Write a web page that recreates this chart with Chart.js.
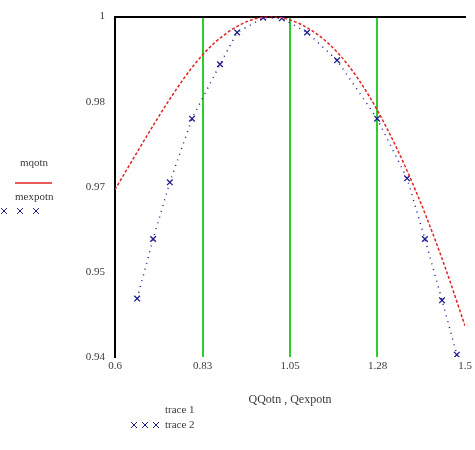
<!DOCTYPE html>
<html lang="en">
<head>
    <meta charset="UTF-8">
    <title>trace 1 / trace 2</title>
    <script src="https://cdn.jsdelivr.net/npm/chart.js@4.4.1/dist/chart.umd.min.js"></script>
    <style>
        body { margin: 0; background: #fff; }
        #wrap { width: 475px; height: 450px; }
    </style>
</head>
<body>
    <div id="wrap"><canvas id="c"></canvas></div>
    <script>
        // trace 1 (red, smooth curve)
        const trace1X = [0.6, 0.65, 0.7, 0.75, 0.8, 0.85, 0.9, 0.95, 1.0, 1.05, 1.1, 1.15, 1.2, 1.25, 1.3, 1.35, 1.4, 1.45, 1.5];
        const trace1Y = [0.9695, 0.9753, 0.981, 0.9864, 0.9912, 0.995, 0.9977, 0.9994, 1.0, 0.9994, 0.9978, 0.9952, 0.9914, 0.9864, 0.9802, 0.973, 0.9648, 0.9556, 0.9455];

        // trace 2 (blue, x markers)
        const trace2X = [0.657, 0.698, 0.741, 0.798, 0.870, 0.914, 0.981, 1.029, 1.094, 1.171, 1.274, 1.351, 1.397, 1.441, 1.479];
        const trace2Y = [0.9503, 0.9608, 0.9708, 0.982, 0.9916, 0.9972, 0.9998, 0.9997, 0.9972, 0.9923, 0.982, 0.9715, 0.9608, 0.95, 0.9404];

        // axis ticks
        const xTickValues = [0.6, 0.825, 1.05, 1.275, 1.5];
        const xTickLabels = ['0.6', '0.83', '1.05', '1.28', '1.5'];
        const xMarkers = [0.825, 1.05, 1.275];
        const yTickValues = [0.94, 0.955, 0.97, 0.985, 1];
        const yTickLabels = ['0.94', '0.95', '0.97', '0.98', '1'];

        const red = '#e02424';
        const blue = '#1c1c8c';
        const green = '#2ecc2e';
        const textColor = '#3a3a3a';
        const serif = "'Liberation Serif', 'DejaVu Serif', serif";

        // extra labels in the Mathcad style (y names on the left, trace legend below)
        const sideLabels = {
            id: 'sideLabels',
            afterDraw(chart) {
                const ctx = chart.ctx;
                ctx.save();
                ctx.font = '11px ' + serif;
                ctx.fillStyle = textColor;
                ctx.textBaseline = 'middle';
                ctx.textAlign = 'left';
                ctx.fillText('mqotn', 20, 163);
                ctx.fillText('mexpotn', 15, 197);
                ctx.fillText('trace 1', 165, 410);
                ctx.fillText('trace 2', 165, 425);

                // red line sample
                ctx.strokeStyle = red;
                ctx.lineWidth = 1.5;
                ctx.beginPath();
                ctx.moveTo(15, 183);
                ctx.lineTo(52, 183);
                ctx.stroke();

                // blue x sample (left and bottom)
                const cross = (x, y) => {
                    ctx.beginPath();
                    ctx.moveTo(x - 3, y - 3); ctx.lineTo(x + 3, y + 3);
                    ctx.moveTo(x + 3, y - 3); ctx.lineTo(x - 3, y + 3);
                    ctx.stroke();
                };
                ctx.strokeStyle = blue;
                ctx.lineWidth = 1;
                [4, 20, 36].forEach(x => cross(x, 211));
                [134, 145, 156].forEach(x => cross(x, 425));
                ctx.restore();
            }
        };

        new Chart(document.getElementById('c'), {
            type: 'scatter',
            data: {
                datasets: [{
                    label: 'trace 1',
                    data: trace1X.map((x, i) => ({ x: x, y: trace1Y[i] })),
                    showLine: true,
                    borderColor: red,
                    borderWidth: 1.5,
                    borderDash: [3, 2],
                    cubicInterpolationMode: 'monotone',
                    pointRadius: 0
                }, {
                    label: 'trace 2',
                    data: trace2X.map((x, i) => ({ x: x, y: trace2Y[i] })),
                    showLine: true,
                    borderColor: blue,
                    borderWidth: 1.5,
                    borderDash: [1, 5],
                    pointStyle: 'crossRot',
                    pointRadius: 4,
                    pointBorderColor: blue,
                    pointBorderWidth: 1.3
                }]
            },
            options: {
                responsive: true,
                maintainAspectRatio: false,
                animation: false,
                layout: { padding: { top: 14, right: 10, left: 0, bottom: 0 } },
                plugins: {
                    legend: { display: false },
                    tooltip: { enabled: false }
                },
                scales: {
                    x: {
                        type: 'linear',
                        min: 0.6,
                        max: 1.5,
                        afterBuildTicks: s => { s.ticks = xTickValues.map(v => ({ value: v })); },
                        afterFit: s => { s.height = 93; },
                        ticks: {
                            padding: 3,
                            color: textColor,
                            font: { family: serif, size: 11 },
                            callback: (v, i) => xTickLabels[i]
                        },
                        grid: {
                            drawTicks: false,
                            lineWidth: 2,
                            color: c => (c.tick && xMarkers.includes(c.tick.value)) ? green : 'transparent'
                        },
                        border: { display: false },
                        title: {
                            display: true,
                            text: 'QQotn , Qexpotn',
                            color: textColor,
                            font: { family: serif, size: 12 },
                            padding: { top: 0, bottom: 43 }
                        }
                    },
                    xTop: {
                        type: 'linear',
                        position: 'top',
                        min: 0.6,
                        max: 1.5,
                        afterFit: s => { s.height = 0; },
                        ticks: { display: false },
                        grid: { display: false },
                        border: { display: true, color: '#000', width: 2 }
                    },
                    y: {
                        min: 0.94,
                        max: 1,
                        afterBuildTicks: s => { s.ticks = yTickValues.map(v => ({ value: v })); },
                        afterFit: s => { s.width = 115; },
                        ticks: {
                            padding: 10,
                            color: textColor,
                            font: { family: serif, size: 11 },
                            callback: (v, i) => yTickLabels[i]
                        },
                        grid: { display: false, drawTicks: false },
                        border: { display: true, color: '#000', width: 2 }
                    }
                }
            },
            plugins: [sideLabels]
        });
    </script>
</body>
</html>
